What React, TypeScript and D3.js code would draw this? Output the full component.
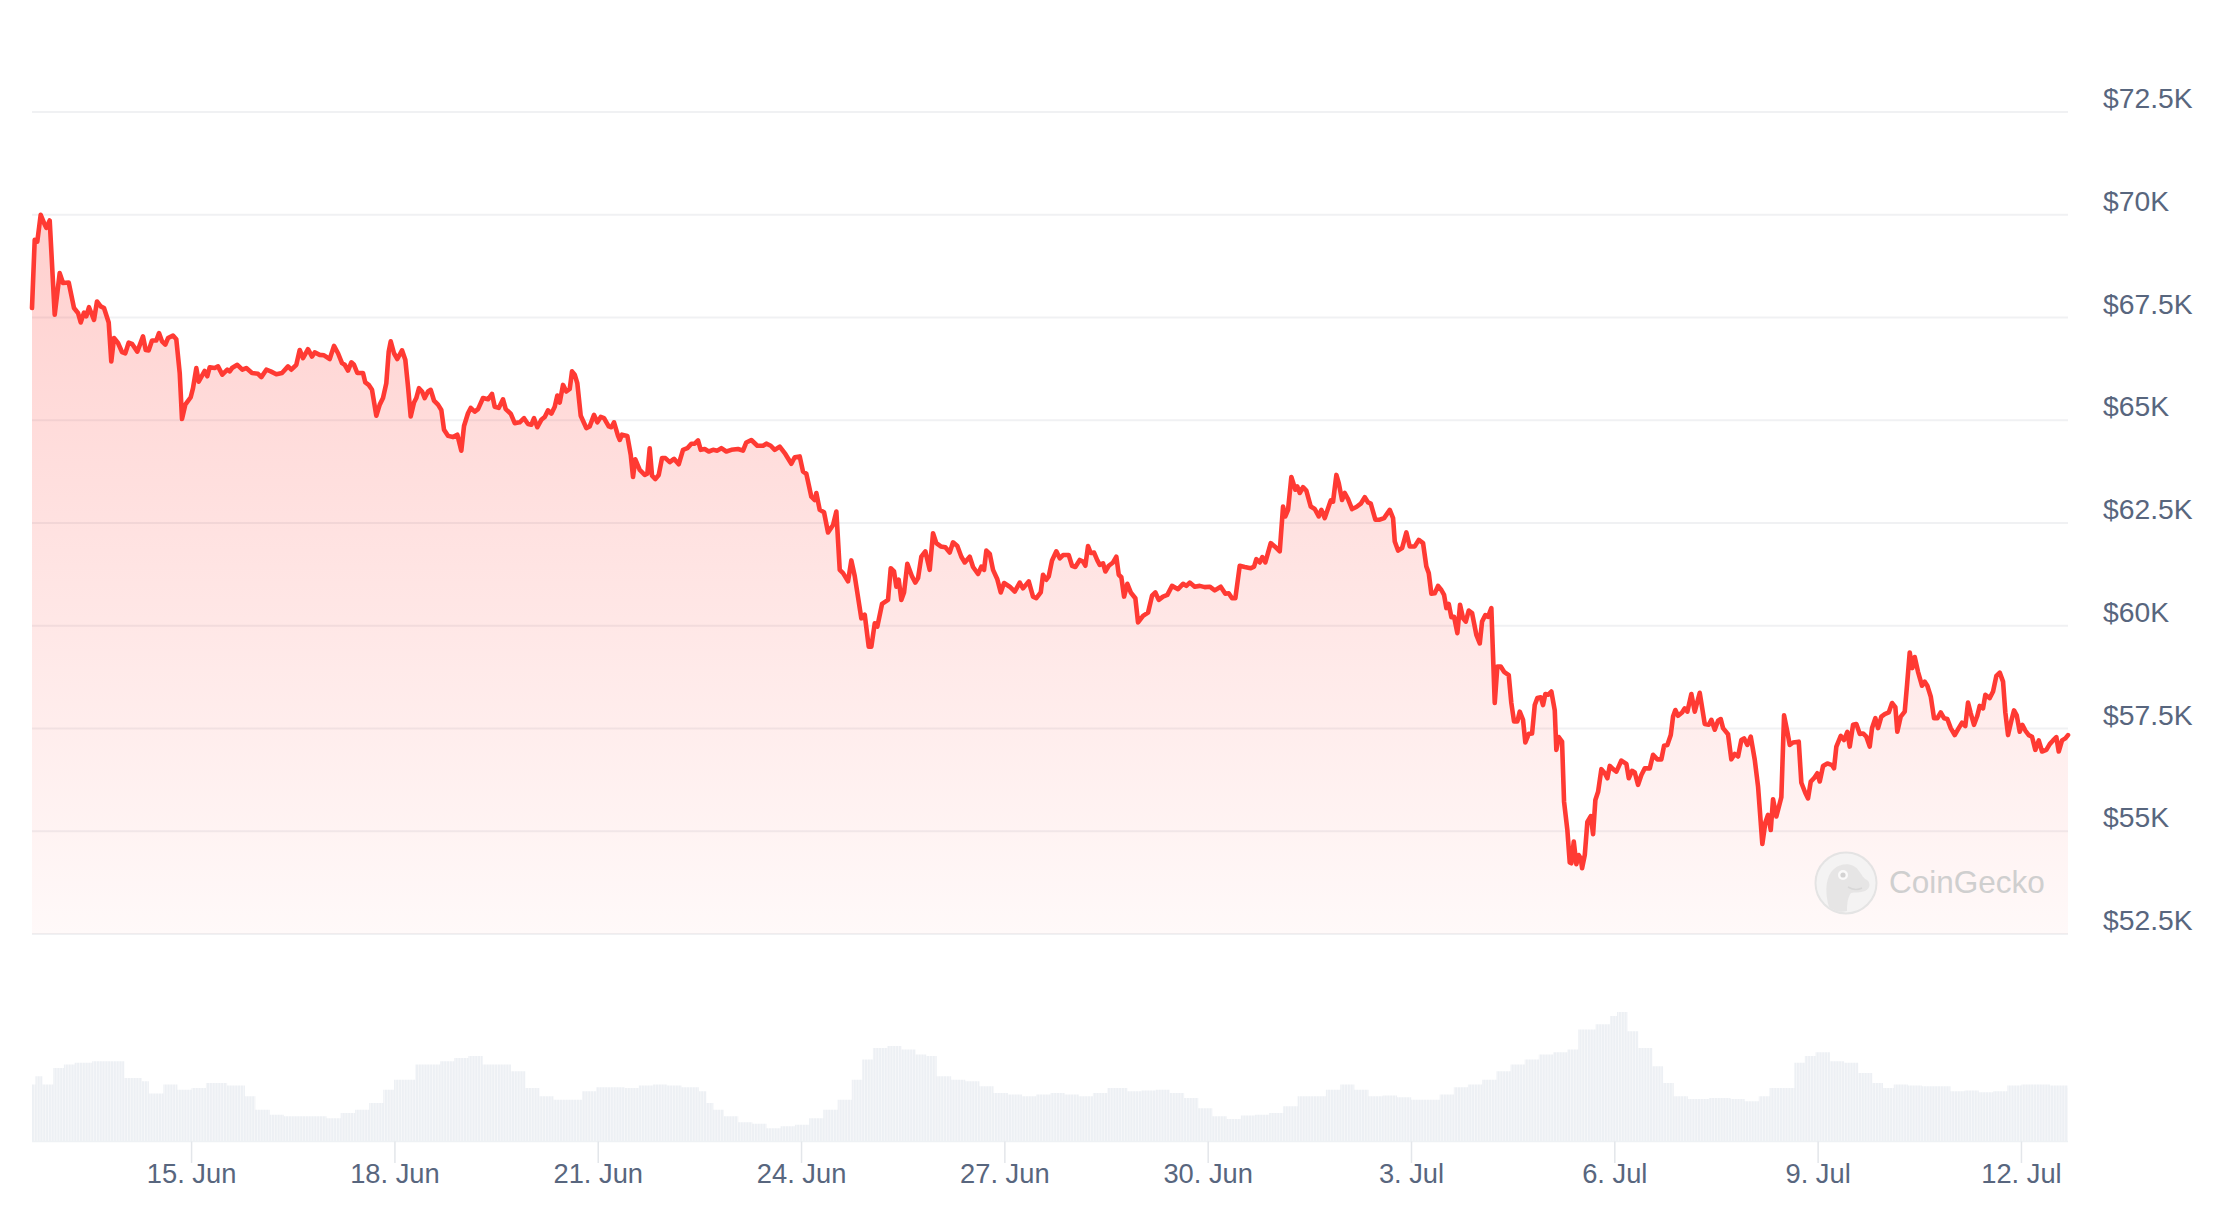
import React from "react";
import * as d3 from "d3";

// Time origin of the 30-day window (UTC) and its length in hours
const START_UTC = Date.UTC(2024, 5, 12, 15, 29);
const RANGE_HOURS = 721;

// Bitcoin price: [hours since start, USD]
const pricePoints: [number, number][] = [
  [0, 67730], [0.96, 69390], [1.88, 69350], [3.08, 70000], [4.25, 69800], [5.06, 69680], [6.27, 69860],
  [8.04, 67570], [9.81, 68580], [10.98, 68340], [13.0, 68350], [14.87, 67730], [16.29, 67610], [17.25, 67380],
  [18.42, 67620], [19.23, 67530], [20.19, 67750], [21.96, 67440], [23.02, 67890], [24.33, 67770], [25.5, 67730],
  [27.16, 67380], [28.08, 66430], [29.04, 67000], [30.46, 66880], [31.87, 66660], [33.04, 66630], [34.25, 66890],
  [35.41, 66860], [37.29, 66670], [39.31, 67040], [40.27, 66710], [41.33, 66700], [42.5, 66940], [44.02, 66940],
  [44.98, 67120], [46.04, 66920], [47.21, 66840], [48.17, 67000], [49.93, 67060], [51.1, 66970], [52.31, 66150],
  [53.12, 65030], [54.29, 65380], [56.2, 65560], [57.02, 65780], [58.19, 66270], [59.03, 65940], [61.16, 66200],
  [62.08, 66070], [62.93, 66290], [64.7, 66270], [65.87, 66310], [67.39, 66110], [69.16, 66230], [70.01, 66190],
  [70.83, 66270], [72.71, 66350], [74.48, 66230], [75.89, 66270], [77.91, 66150], [80.04, 66130], [81.21, 66050],
  [82.98, 66230], [84.53, 66190], [86.52, 66120], [88.54, 66150], [90.66, 66310], [91.83, 66230], [93.6, 66350],
  [94.8, 66710], [95.97, 66510], [97.74, 66730], [99.16, 66550], [100.11, 66650], [101.88, 66590], [103.41, 66580],
  [105.43, 66490], [106.95, 66810], [108.37, 66630], [109.78, 66390], [110.74, 66350], [111.91, 66210], [113.08, 66410],
  [114.03, 66350], [115.2, 66150], [117.22, 66150], [118.03, 65920], [119.24, 65860], [120.41, 65740], [121.93, 65110],
  [123.14, 65380], [124.3, 65540], [125.47, 65900], [126.32, 66670], [127.03, 66920], [128.2, 66630], [129.37, 66490],
  [131.03, 66700], [132.2, 66470], [133.16, 65820], [134.11, 65090], [135.28, 65430], [136.09, 65540], [137.05, 65780],
  [138.11, 65700], [139.07, 65540], [140.24, 65700], [141.2, 65740], [142.36, 65480], [143.78, 65380], [144.95, 65250],
  [145.91, 64770], [147.32, 64620], [149.09, 64590], [150.61, 64650], [152.03, 64260], [152.99, 64860], [154.4, 65170],
  [155.36, 65300], [156.78, 65210], [157.95, 65270], [159.72, 65540], [161.49, 65510], [162.9, 65640], [163.86, 65330],
  [165.28, 65300], [166.8, 65510], [167.76, 65270], [169.53, 65160], [170.94, 64930], [172.71, 64950], [174.24, 65050],
  [175.65, 64910], [176.82, 64890], [177.78, 65050], [178.95, 64830], [180.36, 65010], [181.57, 65080], [182.74, 65240],
  [183.91, 65160], [185.11, 65330], [186.03, 65600], [186.88, 65430], [188.05, 65860], [189.22, 65700], [190.42, 65760],
  [191.24, 66190], [192.19, 66110], [193.11, 65900], [194.32, 65110], [196.3, 64810], [197.5, 64850], [199.03, 65130],
  [200.2, 64950], [201.4, 65080], [202.57, 65050], [204.23, 64850], [205.15, 64830], [206.11, 64950], [207.53, 64620],
  [208.13, 64520], [208.94, 64650], [210.82, 64620], [212.02, 64160], [212.84, 63620], [213.65, 64050], [215.21, 63790],
  [216.98, 63670], [217.9, 63700], [218.75, 64320], [219.57, 63650], [220.74, 63570], [221.94, 63670], [223.11, 64080],
  [224.28, 64080], [225.84, 63980], [227.36, 64060], [229.02, 63930], [230.54, 64280], [232.07, 64320], [233.48, 64430],
  [234.69, 64430], [235.86, 64510], [236.81, 64280], [238.23, 64300], [239.65, 64240], [241.17, 64280], [242.69, 64260],
  [244.11, 64320], [245.88, 64240], [247.65, 64280], [250.02, 64300], [251.79, 64260], [252.96, 64460], [254.73, 64520],
  [256.86, 64380], [258.88, 64380], [260.04, 64430], [261.6, 64380], [263.02, 64280], [264.79, 64360], [266.77, 64180],
  [268.9, 63940], [270.1, 64100], [271.87, 64120], [273.04, 63750], [274.21, 63700], [275.98, 63140], [277.19, 63060],
  [277.75, 63230], [278.95, 62820], [280.48, 62760], [281.9, 62270], [283.67, 62450], [284.84, 62780], [286.04, 61360],
  [287.21, 61280], [288.98, 61080], [290.15, 61590], [291.35, 61210], [293.69, 60180], [294.89, 60270], [296.31, 59490],
  [297.23, 59490], [298.44, 60060], [299.36, 59980], [301.02, 60530], [303.14, 60630], [304.1, 61400], [305.27, 61320],
  [306.08, 60950], [306.93, 61120], [307.85, 60630], [308.81, 60810], [309.98, 61510], [311.64, 61200], [312.81, 61050],
  [313.77, 61160], [314.94, 61680], [316.36, 61810], [317.91, 61360], [319.08, 62250], [320.25, 62010], [321.81, 61930],
  [323.44, 61910], [324.99, 61780], [326.16, 62030], [327.69, 61940], [329.1, 61680], [330.31, 61540], [332.08, 61680],
  [333.25, 61430], [335.02, 61260], [336.19, 61440], [337.14, 61360], [337.96, 61830], [339.16, 61750], [340.33, 61360],
  [341.85, 61130], [343.06, 60810], [344.22, 61040], [346.24, 60950], [348.01, 60830], [349.78, 61050], [350.95, 60910],
  [352.97, 61080], [354.49, 60710], [355.66, 60670], [357.22, 60810], [358.03, 61240], [359.2, 61120], [360.05, 61200],
  [361.22, 61590], [362.74, 61810], [363.95, 61640], [365.12, 61720], [367.14, 61720], [368.31, 61460], [369.47, 61430],
  [371.03, 61600], [372.2, 61560], [373.02, 61460], [373.97, 61940], [374.93, 61770], [376.1, 61780], [377.27, 61590],
  [378.12, 61480], [379.29, 61520], [380.1, 61320], [381.31, 61460], [382.83, 61540], [384.0, 61680], [384.85, 61240],
  [385.77, 61180], [386.73, 60710], [387.89, 61020], [389.1, 60810], [390.73, 60670], [391.68, 60080], [393.45, 60240],
  [395.22, 60320], [396.64, 60730], [397.81, 60810], [399.01, 60630], [400.53, 60710], [402.06, 60750], [403.72, 60970],
  [405.84, 60890], [407.61, 61020], [408.78, 60970], [409.98, 61050], [411.75, 60950], [413.52, 60970], [415.29, 60940],
  [417.06, 60950], [418.84, 60860], [420.96, 60950], [422.59, 60780], [423.79, 60790], [424.97, 60670], [426.14, 60670],
  [427.69, 61460], [429.46, 61430], [431.59, 61400], [432.76, 61440], [433.57, 61620], [434.78, 61540], [435.7, 61670],
  [436.76, 61540], [438.67, 62010], [440.09, 61930], [441.86, 61810], [443.03, 62900], [443.84, 62660], [444.8, 62820],
  [445.97, 63620], [447.38, 63310], [448.09, 63390], [448.94, 63230], [450.11, 63370], [451.28, 63290], [452.84, 62900],
  [454.26, 62840], [455.67, 62660], [456.6, 62820], [457.8, 62620], [459.92, 63050], [460.74, 63020], [461.91, 63670],
  [462.76, 63470], [463.93, 63060], [464.88, 63230], [466.05, 63080], [467.47, 62840], [468.99, 62890], [470.55, 62970],
  [471.97, 63130], [473.14, 63000], [474.09, 62970], [475.72, 62580], [477.28, 62580], [478.8, 62620], [480.82, 62820],
  [481.99, 62620], [482.59, 62050], [483.76, 61830], [485.18, 61890], [486.7, 62270], [487.9, 61930], [489.67, 61930],
  [491.09, 62090], [492.61, 62010], [493.78, 61440], [494.63, 61280], [495.55, 60780], [496.75, 60790], [497.92, 60970],
  [499.09, 60870], [500.05, 60750], [500.86, 60430], [501.71, 60530], [502.63, 60210], [503.59, 60220], [504.76, 59820],
  [505.71, 60510], [506.77, 60180], [507.73, 60100], [508.79, 60370], [509.96, 60310], [511.48, 59780], [512.69, 59570],
  [513.5, 60100], [514.67, 60260], [515.62, 60220], [516.79, 60430], [517.99, 58120], [518.92, 59010], [520.12, 59010],
  [521.29, 58880], [522.95, 58800], [523.87, 58120], [524.83, 57670], [526.0, 57670], [526.85, 57910], [528.02, 57710],
  [528.83, 57160], [530.04, 57370], [531.21, 57380], [532.16, 58070], [533.08, 58240], [534.29, 58260], [535.1, 58070],
  [535.92, 58340], [536.87, 58320], [538.04, 58400], [539.25, 57940], [539.81, 56980], [540.66, 57290], [541.83, 57180],
  [542.54, 55720], [543.71, 55030], [544.56, 54240], [545.13, 54220], [545.98, 54750], [546.9, 54200], [547.75, 54420],
  [548.46, 54340], [548.92, 54100], [549.88, 54420], [550.8, 55230], [552.0, 55370], [552.82, 54930], [553.63, 55760],
  [554.59, 55960], [555.76, 56510], [556.96, 56410], [557.88, 56290], [558.73, 56590], [559.9, 56510], [561.07, 56450],
  [562.84, 56720], [564.61, 56640], [565.46, 56290], [566.62, 56470], [567.58, 56430], [568.75, 56130], [569.92, 56370],
  [571.12, 56530], [572.89, 56530], [574.06, 56860], [575.58, 56750], [577.0, 56750], [577.96, 57080], [579.12, 57100],
  [580.33, 57340], [581.14, 57790], [581.96, 57950], [582.91, 57810], [584.33, 57890], [585.28, 57990], [586.2, 57910],
  [587.62, 58340], [588.82, 57910], [590.59, 58370], [592.36, 57610], [593.78, 57590], [594.7, 57710], [595.91, 57470],
  [597.07, 57690], [598.03, 57730], [598.84, 57510], [600.61, 57360], [601.78, 56750], [602.99, 56880], [604.16, 56820],
  [605.33, 57220], [606.28, 57260], [607.45, 57100], [608.65, 57300], [610.07, 56740], [611.24, 56090], [612.76, 54690],
  [613.82, 55210], [614.78, 55400], [615.74, 55030], [616.55, 55780], [617.72, 55360], [619.49, 55830], [620.45, 57820],
  [621.61, 57420], [622.46, 57100], [623.63, 57160], [625.65, 57180], [626.57, 56180], [627.99, 55930], [628.94, 55800],
  [629.9, 56210], [631.07, 56290], [632.24, 56410], [633.09, 56210], [634.26, 56590], [635.78, 56650], [637.45, 56610],
  [638.15, 56530], [638.97, 57060], [640.53, 57320], [641.7, 57220], [642.86, 57420], [643.71, 57060], [644.88, 57590],
  [646.05, 57610], [647.25, 57370], [648.42, 57380], [649.59, 57300], [650.79, 57060], [651.61, 57510], [652.78, 57750],
  [653.73, 57510], [654.9, 57790], [656.1, 57850], [657.52, 57890], [658.69, 58120], [659.86, 58020], [660.56, 57420],
  [661.77, 57790], [663.18, 57910], [664.0, 58560], [664.95, 59350], [665.87, 58970], [666.72, 59240], [667.89, 58880],
  [669.31, 58540], [670.27, 58640], [671.19, 58540], [672.39, 58280], [673.56, 57750], [674.73, 57750], [675.93, 57890],
  [677.1, 57750], [678.27, 57730], [679.47, 57510], [680.89, 57340], [682.3, 57510], [683.47, 57640], [684.64, 57560],
  [685.6, 58130], [686.56, 57870], [687.72, 57590], [688.89, 57810], [689.74, 58050], [690.91, 57990], [691.73, 58320],
  [693.29, 58240], [694.46, 58400], [695.63, 58780], [696.83, 58860], [698.0, 58640], [698.81, 57890], [699.77, 57340],
  [700.94, 57690], [701.89, 57940], [702.85, 57820], [703.91, 57420], [704.83, 57590], [705.89, 57450], [707.1, 57340],
  [708.26, 57300], [709.43, 56980], [710.64, 57210], [711.81, 56940], [713.33, 56980], [714.53, 57120], [715.7, 57210],
  [716.87, 57290], [717.72, 56940], [718.89, 57210], [720.06, 57260], [721.0, 57340],
];

// Trading volume: [hours since start, USD billions]
const volumePoints: [number, number][] = [
  [0, 24.4], [1.2, 28.0], [3.7, 24.4], [7.5, 31.5], [11.3, 33.0], [15.1, 33.7], [21.3, 34.4], [28.9, 34.4],
  [32.7, 27.2], [38.9, 25.8], [41.4, 20.6], [46.5, 24.4], [51.5, 22.2], [56.5, 22.9], [61.6, 25.1], [69.1, 24.0],
  [75.4, 19.4], [79.1, 13.6], [84.2, 11.5], [89.2, 10.8], [96.7, 10.8], [104.3, 10.0], [109.3, 12.2], [114.4, 13.6],
  [119.4, 16.5], [124.4, 22.2], [128.2, 26.5], [131.9, 26.5], [135.7, 33.0], [139.5, 33.0], [144.5, 34.4], [149.5, 35.8],
  [154.5, 36.6], [159.6, 33.0], [164.6, 33.0], [169.6, 30.1], [174.7, 22.9], [179.7, 19.4], [184.7, 17.9], [189.7, 17.9],
  [194.8, 21.5], [199.8, 23.3], [204.8, 23.3], [209.9, 22.9], [214.9, 24.0], [219.9, 24.4], [224.9, 24.0], [230, 23.3],
  [236.2, 21.5], [238.8, 16.5], [241.3, 13.6], [245, 10.8], [250.1, 8.2], [255.1, 7.6], [260.1, 5.7], [265.1, 6.5],
  [270.2, 7.2], [275.2, 10.0], [280.2, 13.6], [285.3, 17.9], [290.3, 26.5], [294, 35.1], [297.8, 40.1], [302.9, 40.9],
  [307.9, 39.4], [312.9, 37.3], [316.7, 36.6], [320.4, 28.0], [325.5, 26.5], [330.5, 25.8], [335.5, 23.7], [340.5, 20.8],
  [345.6, 20.1], [350.6, 19.4], [355.6, 20.1], [360.7, 20.8], [365.7, 20.1], [370.7, 19.4], [375.7, 20.8], [380.8, 22.9],
  [387.9, 21.5], [392.9, 21.9], [397.9, 22.2], [402.9, 20.8], [408, 18.6], [413, 14.3], [418, 10.8], [423.1, 9.6],
  [428.1, 11.1], [433.1, 11.5], [438.1, 12.2], [443.1, 15.1], [448.2, 19.4], [453.2, 19.4], [458.2, 22.2], [463.3, 24.4],
  [468.3, 22.2], [473.3, 19.4], [478.3, 19.7], [483.4, 19.0], [488.4, 17.9], [493.4, 17.9], [498.5, 20.1], [503.5, 23.3],
  [508.5, 24.4], [513.5, 26.5], [518.6, 30.1], [523.6, 33.0], [528.6, 35.1], [533.6, 37.3], [538.7, 38.3], [543.7, 39.4],
  [547.5, 48.0], [553.7, 50.2], [558.8, 53.8], [561.3, 55.5], [565, 47.3], [568.8, 40.1], [573.8, 32.3], [577.6, 25.1],
  [581.4, 19.4], [586.4, 18.2], [593.9, 18.6], [601.5, 18.2], [606.5, 17.2], [611.5, 19.4], [615.3, 22.9], [620.3, 22.9],
  [624.1, 33.7], [627.8, 36.6], [631.6, 38.3], [636.7, 34.4], [641.7, 33.7], [646.7, 29.4], [651.7, 25.1], [655.5, 22.9],
  [659.3, 24.4], [664.3, 24.0], [669.3, 23.7], [674.3, 23.7], [679.4, 21.5], [684.4, 21.9], [689.4, 21.1], [694.5, 21.5],
  [699.5, 24.0], [704.5, 24.4], [709.5, 24.4], [714.6, 24.0], [720.9, 22.9],
];

const yTickValues = [52500, 55000, 57500, 60000, 62500, 65000, 67500, 70000, 72500];
const xTickDates = [
  "2024-06-15", "2024-06-18", "2024-06-21", "2024-06-24", "2024-06-27",
  "2024-06-30", "2024-07-03", "2024-07-06", "2024-07-09", "2024-07-12",
];
const xTickLabels = [
  "15. Jun", "18. Jun", "21. Jun", "24. Jun", "27. Jun",
  "30. Jun", "3. Jul", "6. Jul", "9. Jul", "12. Jul",
];

const FONT = "'Liberation Sans', Arial, Helvetica, sans-serif";
const TEXT_COLOR = "#58667e";
const RED = "#ff3a33";

export default function App() {
  const W = 2226;
  const H = 1206;
  const left = 32;
  const right = 2068;
  const priceTop = 112;
  const priceBottom = 934;
  const volBottom = 1141.5;
  const volTop = 1012;

  const toDate = (h: number) => new Date(START_UTC + h * 3600e3);
  const x = d3
    .scaleUtc()
    .domain([toDate(0), toDate(RANGE_HOURS)])
    .range([left, right]);
  const y = d3.scaleLinear().domain([52500, 72500]).range([priceBottom, priceTop]);
  const yV = d3
    .scaleLinear()
    .domain([0, d3.max(volumePoints, (d) => d[1]) as number])
    .range([volBottom, volTop]);

  const line = d3
    .line<[number, number]>()
    .x((d) => x(toDate(d[0])))
    .y((d) => y(d[1]));
  const area = d3
    .area<[number, number]>()
    .x((d) => x(toDate(d[0])))
    .y0(y(52500))
    .y1((d) => y(d[1]));

  const volSeries: [number, number][] = [
    ...volumePoints,
    [RANGE_HOURS, volumePoints[volumePoints.length - 1][1]],
  ];
  const volArea = d3
    .area<[number, number]>()
    .curve(d3.curveStepAfter)
    .x((d) => x(toDate(d[0])))
    .y0(yV(0))
    .y1((d) => yV(d[1]));

  const maxPrice = d3.max(pricePoints, (d) => d[1]) as number;
  const hourPx = x(toDate(1)) - x(toDate(0));

  const fmt = (v: number) => `$${v / 1000}K`;

  return (
    <div style={{ width: W, height: H }}>
      <style>{`body{margin:0;background:#fff}`}</style>
      <svg width={W} height={H} viewBox={`0 0 ${W} ${H}`} style={{ display: "block" }}>
        <defs>
          <linearGradient
            id="areaGrad"
            gradientUnits="userSpaceOnUse"
            x1={0}
            x2={0}
            y1={y(maxPrice)}
            y2={y(52500)}
          >
            <stop offset="0%" stopColor={RED} stopOpacity={0.24} />
            <stop offset="100%" stopColor={RED} stopOpacity={0.03} />
          </linearGradient>
          <pattern
            id="volStripes"
            patternUnits="userSpaceOnUse"
            x={left}
            y={0}
            width={hourPx}
            height={10}
          >
            <rect x={0} y={0} width={hourPx} height={10} fill="#edf0f4" />
            <rect x={hourPx - 0.8} y={0} width={0.8} height={10} fill="#f8f9fb" />
          </pattern>
        </defs>

        <rect x={0} y={0} width={W} height={H} fill="#fff" />

        {/* grid lines */}
        {yTickValues.map((v) => (
          <line
            key={v}
            x1={left}
            x2={right}
            y1={y(v)}
            y2={y(v)}
            stroke="#58667e"
            strokeOpacity={0.09}
            strokeWidth={2}
          />
        ))}

        {/* price area & line */}
        <path d={area(pricePoints) as string} fill="url(#areaGrad)" />
        <path
          d={line(pricePoints) as string}
          fill="none"
          stroke={RED}
          strokeWidth={4.6}
          strokeLinejoin="round"
          strokeLinecap="round"
        />

        {/* watermark */}
        <g transform="translate(1846,883)" opacity={0.9}>
          <circle r={30.5} fill="#f3f3f3" stroke="#e2e2e2" strokeWidth={2} />
          <path
            d="M-17,24 C-21,10 -21,-6 -12,-14 C-4,-21 8,-20 13,-12 C16,-8 17,-5 21,-3 C25,0 24,6 19,8 C14,10 9,9 5,10 C2,14 1,20 1,28 C-6,30 -12,28 -17,24 Z"
            fill="#e4e4e4"
          />
          <circle cx={-3} cy={-8} r={5} fill="#fafafa" />
          <circle cx={-3} cy={-8} r={2.6} fill="#cfcfcf" />
          <path d="M2,4 C7,7 12,7 16,5" fill="none" stroke="#d4d4d4" strokeWidth={1.5} />
        </g>
        <text x={1889} y={893} fontFamily={FONT} fontSize={31.5} fill="#cfcfcf">
          CoinGecko
        </text>

        {/* y axis labels */}
        {yTickValues.map((v) => (
          <text
            key={`yl${v}`}
            x={2103}
            y={y(v) - 4}
            fontFamily={FONT}
            fontSize={28.3}
            fill={TEXT_COLOR}
          >
            {fmt(v)}
          </text>
        ))}

        {/* volume */}
        <path d={volArea(volSeries) as string} fill="url(#volStripes)" />
        <line x1={left} x2={right} y1={volBottom} y2={volBottom} stroke="#eef1f4" strokeWidth={1.5} />

        {/* x axis ticks and labels */}
        {xTickDates.map((ds, i) => {
          const px = x(new Date(ds + "T00:00:00Z"));
          return (
            <g key={ds}>
              <line x1={px} x2={px} y1={volBottom} y2={1163} stroke="#e3e6ea" strokeWidth={1.5} />
              <text
                x={px}
                y={1183}
                textAnchor="middle"
                fontFamily={FONT}
                fontSize={27.3}
                fill={TEXT_COLOR}
              >
                {xTickLabels[i]}
              </text>
            </g>
          );
        })}
      </svg>
    </div>
  );
}
